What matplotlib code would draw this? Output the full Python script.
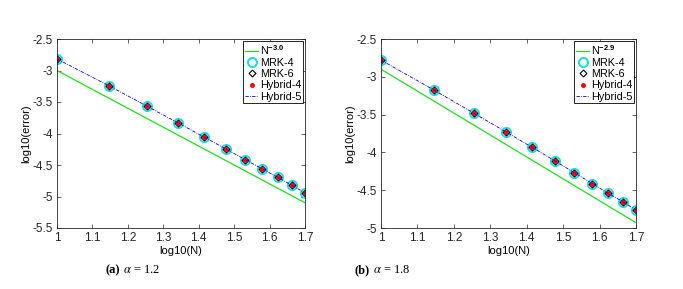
import numpy as np
import matplotlib
matplotlib.use("Agg")
from matplotlib import pyplot as plt

# log10(N) for N = 10, 14, ..., 50
logN = [1.0, 1.146, 1.255, 1.342, 1.415, 1.477, 1.531, 1.580, 1.623, 1.663, 1.699]

# log10(error), alpha = 1.2
err_a = [-2.817, -3.241, -3.569, -3.833, -4.056, -4.246, -4.415, -4.563, -4.696, -4.823, -4.939]
# log10(error), alpha = 1.8
err_b = [-2.779, -3.177, -3.482, -3.726, -3.934, -4.111, -4.270, -4.412, -4.540, -4.650, -4.760]

ref_x = [1.0, 1.7]
ref_a = [-3.0, -5.1]
ref_b = [-2.9, -4.93]

plt.rcParams['font.family'] = ['Liberation Sans', 'DejaVu Sans']
plt.rcParams['mathtext.fontset'] = 'custom'
plt.rcParams['mathtext.rm'] = 'Liberation Sans'
plt.rcParams['mathtext.bf'] = 'Liberation Sans:bold'

fig = plt.figure(figsize=(6.83, 2.89), dpi=100)

panels = [
    (err_a, ref_a, r'N$^{\mathbf{-3.0}}$', (-5.5, -2.5), [57, 305], '(a)', r' $\alpha$ = 1.2', 120),
    (err_b, ref_b, r'N$^{\mathbf{-2.9}}$', (-5.0, -2.5), [381, 636], '(b)', r' $\alpha$ = 1.8', 370),
]

W, H = 683.0, 289.0
for err, ref, reflab, ylim, xs, tag, cap, capx in panels:
    ax = fig.add_axes([xs[0] / W, 1 - 228 / H, (xs[1] - xs[0]) / W, (228 - 39) / H])
    ax.plot(ref_x, ref, color='#22dd22', lw=0.9, label=reflab)
    ax.plot(logN, err, 'o', ms=6.5, mfc='none', mec='#22dddd', mew=1.5, ls='none', label='MRK-4')
    ax.plot(logN, err, 'D', ms=3.5, mfc='none', mec='black', mew=0.8, ls='none', label='MRK-6')
    ax.plot(logN, err, '.', ms=5, color='red', ls='none', label='Hybrid-4')
    ax.plot(logN, err, ls=(0, (4, 1.5, 1, 1.5)), color='blue', lw=0.6, label='Hybrid-5')
    ax.set_xlim(1, 1.7)
    ax.set_ylim(*ylim)
    ax.set_xticks(np.arange(1.0, 1.71, 0.1))
    ax.set_xticklabels(['1', '1.1', '1.2', '1.3', '1.4', '1.5', '1.6', '1.7'])
    yt = np.arange(ylim[0], ylim[1] + 0.01, 0.5)
    ax.set_yticks(yt)
    ax.set_yticklabels(['%g' % v for v in yt])
    ax.tick_params(direction='in', top=True, right=True, length=3, width=0.5,
                   labelsize=8.5, colors='#262626', pad=3)
    for s in ax.spines.values():
        s.set_linewidth(0.6)
        s.set_color('#262626')
    ax.set_xlabel('log10(N)', fontsize=8, labelpad=1)
    ax.set_ylabel('log10(error)', fontsize=8)
    ax.yaxis.set_label_coords(-26.0 / (xs[1] - xs[0]), 0.5)
    leg = ax.legend(loc='upper right', fontsize=7.8, frameon=True, fancybox=False,
                    edgecolor='black', framealpha=1, borderpad=0.15, labelspacing=0.12,
                    handlelength=1.2, handletextpad=0.15, borderaxespad=0.2)
    leg.get_frame().set_linewidth(0.6)
    fig.text(capx / W, 1 - 270 / H, tag, ha='right', va='center', fontsize=9,
             family='Liberation Serif', weight='bold')
    fig.text(capx / W, 1 - 270 / H, cap, ha='left', va='center', fontsize=9,
             family='Liberation Serif', math_fontfamily='stix')

fig.savefig('out.png', dpi=100)
